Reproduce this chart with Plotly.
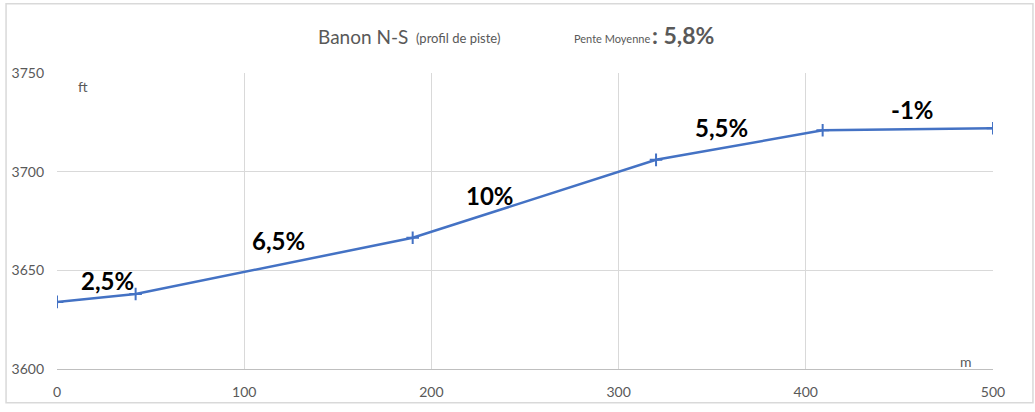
import plotly.graph_objects as go

# Data
distance_m = [0, 42, 190, 320, 409, 500]
altitude_ft = [3634, 3638, 3666.5, 3706, 3721, 3722]
slope_labels = ["2,5%", "6,5%", "10%", "5,5%", "-1%"]
slope_label_x = [27, 118.5, 231.5, 355, 457]
slope_label_y = [3645, 3665, 3688, 3722.5, 3731.5]
x_ticks = [0, 100, 200, 300, 400, 500]
y_ticks = [3600, 3650, 3700, 3750]

FONT = "Lato"
GRAY = "#595959"
BLUE = "#4472C4"

fig = go.Figure()
fig.add_trace(go.Scatter(
    x=distance_m, y=altitude_ft, mode="lines+markers",
    line=dict(color=BLUE, width=2.5),
    marker=dict(symbol="cross-thin", size=9, line=dict(color=BLUE, width=2)),
    showlegend=False, hoverinfo="x+y",
))

annotations = []
for t, x, y in zip(slope_labels, slope_label_x, slope_label_y):
    annotations.append(dict(x=x, y=y, xref="x", yref="y", text="<b>%s</b>" % t,
                            showarrow=False, font=dict(family=FONT, size=24, color="black")))
annotations.append(dict(x=14, y=3743, xref="x", yref="y", text="ft", showarrow=False,
                        font=dict(family=FONT, size=14, color=GRAY)))
annotations.append(dict(x=485.5, y=3604, xref="x", yref="y", text="m", showarrow=False,
                        font=dict(family=FONT, size=14, color=GRAY)))

def px(p):
    return (p - 56) / 937.0

def py(p):
    return (372 - p) / 299.0

annotations += [
    dict(x=px(315), y=py(36), xref="paper", yref="paper", xanchor="left", yanchor="middle",
         text="Banon N-S", showarrow=False, font=dict(family=FONT, size=19, color=GRAY)),
    dict(x=px(413), y=py(38), xref="paper", yref="paper", xanchor="left", yanchor="middle",
         text="(profil de piste)", showarrow=False, font=dict(family=FONT, size=13, color=GRAY)),
    dict(x=px(572), y=py(38), xref="paper", yref="paper", xanchor="left", yanchor="middle",
         text="Pente Moyenne", showarrow=False, font=dict(family=FONT, size=11, color=GRAY)),
    dict(x=px(650), y=py(35), xref="paper", yref="paper", xanchor="left", yanchor="middle",
         text="<b>: 5,8%</b>", showarrow=False, font=dict(family=FONT, size=23, color=GRAY)),
]

fig.update_layout(
    width=1035, height=412,
    margin=dict(l=56, r=42, t=73, b=40),
    paper_bgcolor="white", plot_bgcolor="white",
    font=dict(family=FONT, size=14, color=GRAY),
    annotations=annotations,
    shapes=[dict(type="rect", xref="paper", yref="paper",
                 x0=px(5), x1=px(1033), y0=py(406), y1=py(3),
                 line=dict(color="#d9d9d9", width=1.5), layer="below")],
    xaxis=dict(range=[0, 500], tickvals=x_ticks, showgrid=True, gridcolor="#d9d9d9",
               gridwidth=1, zeroline=False, showline=True, linecolor="#bfbfbf",
               ticks="", ticklabelstandoff=10, tickfont=dict(size=14, color=GRAY)),
    yaxis=dict(range=[3600, 3750], tickvals=y_ticks, showgrid=True, gridcolor="#d9d9d9",
               gridwidth=1, zeroline=False, showline=False,
               ticks="", ticklabelstandoff=12, tickfont=dict(size=14, color=GRAY)),
)

fig.write_html("out.html", config={"displayModeBar": False},
               post_script="document.body.style.margin='0';")
